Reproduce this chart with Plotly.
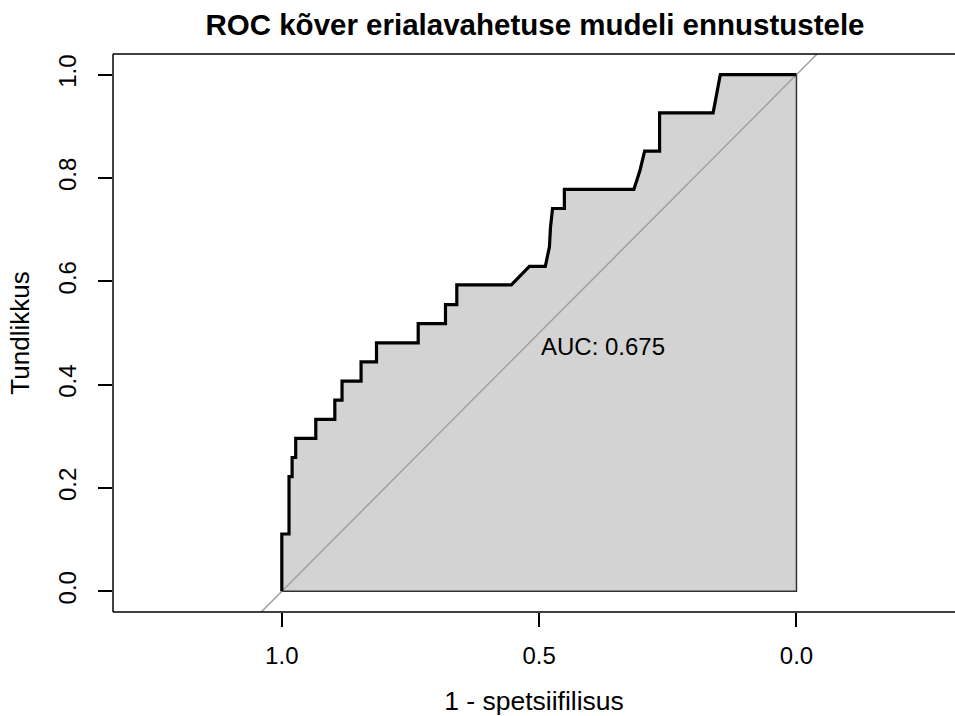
import plotly.graph_objects as go

# ROC curve points (specificity, sensitivity)
specificity = [1.0, 1.0, 0.986, 0.986, 0.980, 0.980, 0.973, 0.973, 0.934, 0.934,
               0.897, 0.897, 0.883, 0.883, 0.846, 0.846, 0.816, 0.816, 0.735, 0.735,
               0.682, 0.682, 0.660, 0.660, 0.554, 0.519, 0.488, 0.480, 0.478, 0.474,
               0.451, 0.451, 0.316, 0.304, 0.295, 0.266, 0.266, 0.162, 0.148, 0.0]
sensitivity = [0.0, 0.111, 0.111, 0.222, 0.222, 0.259, 0.259, 0.296, 0.296, 0.333,
               0.333, 0.370, 0.370, 0.407, 0.407, 0.444, 0.444, 0.481, 0.481, 0.518,
               0.518, 0.555, 0.555, 0.593, 0.593, 0.629, 0.629, 0.667, 0.704, 0.741,
               0.741, 0.778, 0.778, 0.815, 0.852, 0.852, 0.926, 0.926, 1.0, 1.0]
auc_value = 0.675
auc_pos = (0.5, 0.474)
tick_vals = [0.0, 0.2, 0.4, 0.6, 0.8, 1.0]
x_tick_vals = [1.0, 0.5, 0.0]
diag_x = [1.2, -0.4]
diag_y = [-0.2, 1.4]

FONT = "Liberation Sans, Arial, Helvetica, sans-serif"

fig = go.Figure()

# AUC polygon
poly_x = specificity + [0.0, 1.0, 1.0]
poly_y = sensitivity + [0.0, 0.0, sensitivity[0]]
fig.add_trace(go.Scatter(x=poly_x, y=poly_y, mode="lines", fill="toself",
                         fillcolor="#D3D3D3", line=dict(color="#333333", width=1.5),
                         hoverinfo="skip", showlegend=False))
# diagonal
fig.add_trace(go.Scatter(x=diag_x, y=diag_y, mode="lines",
                         line=dict(color="#A0A0A0", width=1.5),
                         hoverinfo="skip", showlegend=False))
# ROC curve
fig.add_trace(go.Scatter(x=specificity, y=sensitivity, mode="lines",
                         line=dict(color="black", width=3.2),
                         showlegend=False))

fig.add_annotation(x=auc_pos[0], y=auc_pos[1], text=f"AUC: {auc_value:.3f}",
                   showarrow=False, xanchor="left", yanchor="middle",
                   font=dict(family=FONT, size=24, color="black"))

# plot box: top, bottom, left (right edge lies outside the page)
box = dict(type="line", xref="paper", yref="paper",
           line=dict(color="black", width=1.5), layer="above")
fig.add_shape(**box, x0=0, x1=1.01, y0=1, y1=1)
fig.add_shape(**box, x0=0, x1=1.01, y0=0, y1=0)
fig.add_shape(**box, x0=0, x1=0, y0=0, y1=1)

fig.update_layout(
    width=955, height=716,
    margin=dict(l=113, r=0, t=54, b=104),
    paper_bgcolor="white", plot_bgcolor="white",
    font=dict(family=FONT, size=24, color="black"),
    title=dict(text="<b>ROC kõver erialavahetuse mudeli ennustustele</b>",
               x=535 / 955, xanchor="center", y=1 - 25 / 716, yanchor="middle",
               font=dict(family=FONT, size=29.5, color="black")),
    xaxis=dict(range=[1.328, -0.308], tickvals=x_tick_vals,
               ticktext=["1.0", "0.5", "0.0"],
               ticks="outside", ticklen=14, tickwidth=1.5, tickcolor="black",
               ticklabelstandoff=8,
               showline=False, showgrid=False, zeroline=False,
               title=dict(text="1 - spetsiifilisus", standoff=24,
                          font=dict(size=26.5)),
               tickfont=dict(size=24)),
    yaxis=dict(range=[-0.04, 1.04], tickvals=tick_vals,
               ticktext=["0.0", "0.2", "0.4", "0.6", "0.8", "1.0"],
               tickangle=-90,
               ticks="outside", ticklen=14, tickwidth=1.5, tickcolor="black",
               ticklabelstandoff=12,
               showline=False, showgrid=False, zeroline=False,
               title=dict(text="Tundlikkus", standoff=17,
                          font=dict(size=26)),
               tickfont=dict(size=24)),
)

fig.write_html("out.html")
